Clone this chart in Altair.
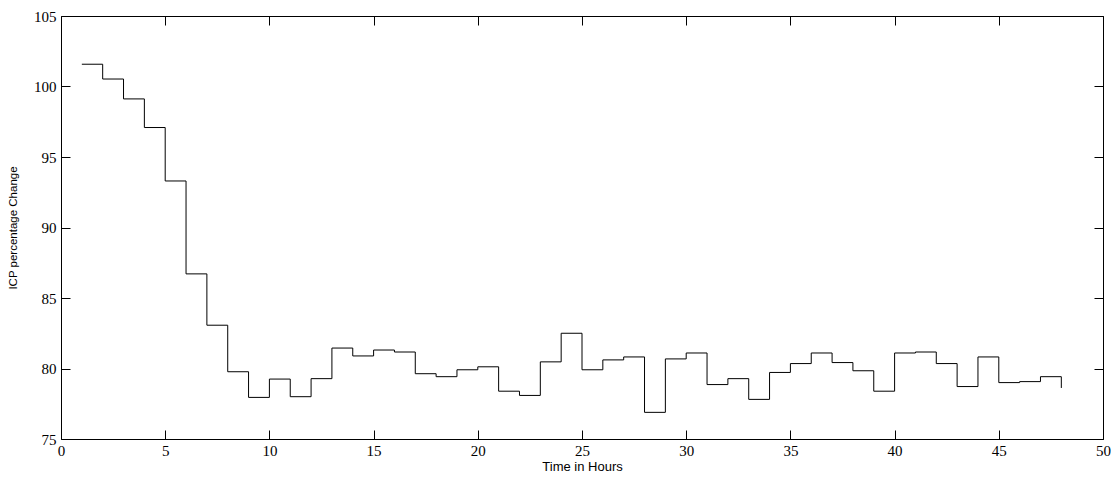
import altair as alt
import pandas as pd

hours = list(range(1, 49))
icp = [101.58, 100.53, 99.12, 97.09, 93.30, 86.71, 83.07, 79.77, 77.95, 79.25,
       78.00, 79.28, 81.45, 80.89, 81.31, 81.17, 79.63, 79.42, 79.91, 80.12,
       78.39, 78.09, 80.47, 82.50, 79.91, 80.61, 80.82, 76.89, 80.68, 81.10,
       78.86, 79.28, 77.81, 79.72, 80.35, 81.10, 80.42, 79.84, 78.39, 81.10,
       81.17, 80.35, 78.72, 80.82, 79.00, 79.07, 79.42, 78.62]
x_ticks = list(range(0, 51, 5))
y_ticks = list(range(75, 106, 5))

df = pd.DataFrame({"hour": hours, "icp": icp})

xs = alt.Scale(domain=[0, 50], nice=False, zero=False)
ys = alt.Scale(domain=[75, 105], nice=False, zero=False)

ax_lab_x = alt.Axis(orient="bottom", values=x_ticks, ticks=False, domain=False, grid=False,
                    labelFont="Liberation Serif", labelFontSize=15, labelPadding=4,
                    labelColor="black", labelFlush=False,
                    title="Time in Hours", titleFont="Liberation Sans", titleFontSize=13,
                    titleFontWeight="normal", titleColor="black", titlePadding=2)
ax_lab_y = alt.Axis(orient="left", values=y_ticks, ticks=False, domain=False, grid=False,
                    labelFont="Liberation Serif", labelFontSize=15, labelPadding=5,
                    labelColor="black", labelFlush=False,
                    title="ICP percentage Change", titleFont="Liberation Sans", titleFontSize=11.5,
                    titleFontWeight="normal", titleColor="black", titlePadding=15)


def tick_axis(orient, values):
    return alt.Axis(orient=orient, values=values, offset=-9, tickSize=9, ticks=True,
                    labels=False, domain=False, grid=False, title=None,
                    tickColor="black", tickWidth=1)


line = alt.Chart(df).mark_line(interpolate="step-after", color="black", strokeWidth=1).encode(
    x=alt.X("hour:Q", scale=xs, axis=ax_lab_x),
    y=alt.Y("icp:Q", scale=ys, axis=ax_lab_y),
)
ticks_bl = alt.Chart(df).mark_line(opacity=0).encode(
    x=alt.X("hour:Q", scale=xs, axis=tick_axis("bottom", x_ticks)),
    y=alt.Y("icp:Q", scale=ys, axis=tick_axis("left", y_ticks)),
)
ticks_tr = alt.Chart(df).mark_line(opacity=0).encode(
    x=alt.X("hour:Q", scale=xs, axis=tick_axis("top", x_ticks)),
    y=alt.Y("icp:Q", scale=ys, axis=tick_axis("right", y_ticks)),
)

chart = alt.layer(line, ticks_bl, ticks_tr).resolve_axis(
    x="independent", y="independent"
).properties(
    width=1042, height=423,
    autosize=alt.AutoSizeParams(type="none"),
    padding={"left": 53, "top": 8, "right": 8, "bottom": 34},
    background="white",
).configure_view(stroke="black", strokeWidth=1)

chart.save("out.html", embed_options={"renderer": "svg", "actions": False})
